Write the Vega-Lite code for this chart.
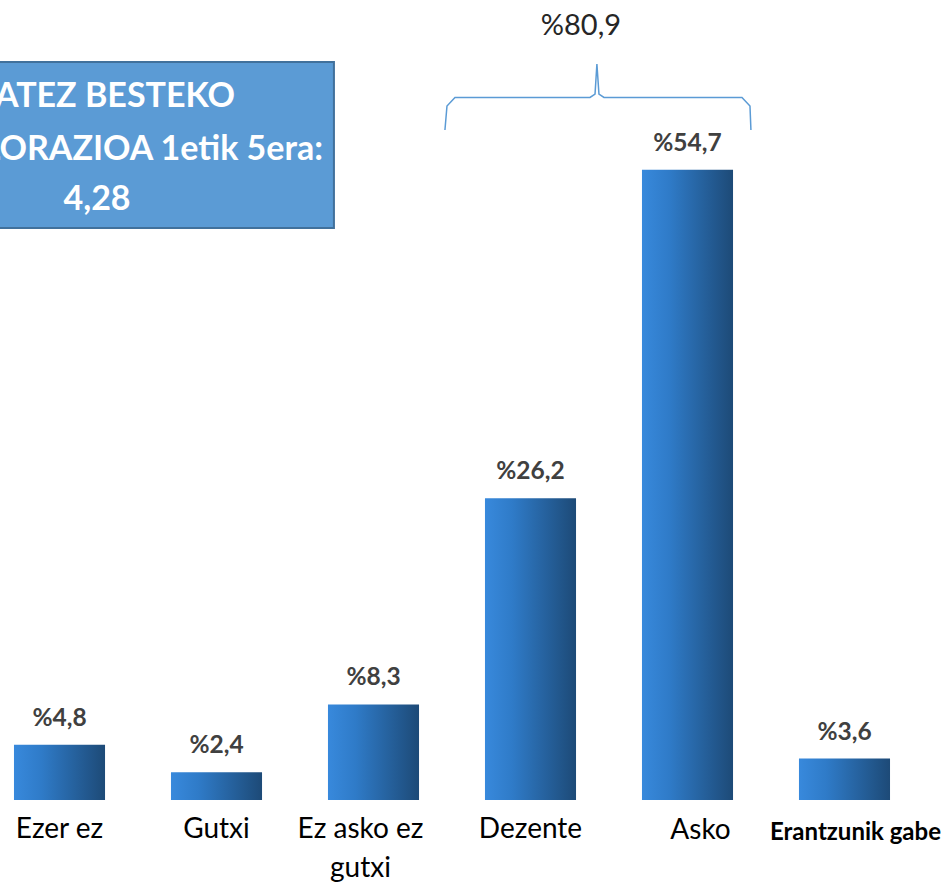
{
  "$schema": "https://vega.github.io/schema/vega-lite/v6.json",
  "width": 904,
  "height": 800,
  "autosize": {"type": "none"},
  "padding": {"left": 0, "top": 0, "right": 47, "bottom": 85},
  "background": "white",
  "config": {"view": {"stroke": null}, "font": "Lato", "axis": {"disable": true}},
  "datasets": {
    "bars": [
      {"cat": "Ezer ez", "value": 4.8, "lbl": "%4,8", "name": "Ezer ez", "grp": "a"},
      {"cat": "Gutxi", "value": 2.4, "lbl": "%2,4", "name": "Gutxi", "grp": "a"},
      {"cat": "Ez asko ez gutxi", "value": 8.3, "lbl": "%8,3", "name": "Ez asko ez|gutxi", "grp": "l"},
      {"cat": "Dezente", "value": 26.2, "lbl": "%26,2", "name": "Dezente", "grp": "a"},
      {"cat": "Asko", "value": 54.7, "lbl": "%54,7", "name": "Asko", "grp": "r"},
      {"cat": "Erantzunik gabe", "value": 3.6, "lbl": "%3,6", "name": "Erantzunik gabe", "grp": "b"}
    ],
    "brace": [
      {"i": 0, "xi": 2.452, "y": 58.16},
      {"i": 1, "xi": 2.465, "y": 60.24},
      {"i": 2, "xi": 2.516, "y": 60.98},
      {"i": 3, "xi": 3.376, "y": 60.98},
      {"i": 4, "xi": 3.408, "y": 61.28},
      {"i": 5, "xi": 3.42, "y": 63.89},
      {"i": 6, "xi": 3.433, "y": 61.28},
      {"i": 7, "xi": 3.465, "y": 60.98},
      {"i": 8, "xi": 4.344, "y": 60.98},
      {"i": 9, "xi": 4.395, "y": 60.24},
      {"i": 10, "xi": 4.401, "y": 58.16}
    ],
    "box": [{"x1": -0.7, "x2": 1.745, "y1": 64.06, "y2": 49.65}],
    "boxtext": [
      {"xi": 1.115, "y": 60.18, "t": "BATEZ BESTEKO"},
      {"xi": 1.675, "y": 55.56, "t": "BALORAZIOA 1etik 5era:"}
    ],
    "boxnum": [{"xi": 0.236, "y": 51.2, "t": "4,28"}],
    "total": [{"xi": 3.318, "y": 66.4, "t": "%80,9"}]
  },
  "resolve": {"scale": {"x": "independent"}},
  "layer": [
    {
      "data": {"name": "bars"},
      "transform": [{"calculate": "0", "as": "zero"}],
      "layer": [
        {
          "mark": {
            "type": "bar",
            "color": {
              "gradient": "linear", "x1": 0, "x2": 1, "y1": 0, "y2": 0,
              "stops": [
                {"offset": 0, "color": "#3889dc"},
                {"offset": 0.3, "color": "#2f7bc8"},
                {"offset": 1, "color": "#1d4a77"}
              ]
            }
          },
          "encoding": {
            "x": {"field": "cat", "type": "nominal", "sort": null, "axis": null,
                  "scale": {"paddingInner": 0.42, "paddingOuter": 0.089}},
            "y": {"field": "value", "type": "quantitative", "axis": null,
                  "scale": {"domain": [0, 69.44], "nice": false}}
          }
        },
        {
          "mark": {"type": "text", "fontWeight": "bold", "fontSize": 24.5, "color": "#404040", "baseline": "alphabetic", "dy": -19},
          "encoding": {
            "x": {"field": "cat", "type": "nominal", "sort": null, "axis": null},
            "y": {"field": "value", "type": "quantitative"},
            "text": {"field": "lbl"}
          }
        },
        {
          "transform": [{"filter": "datum.grp == 'a'"}],
          "mark": {"type": "text", "fontSize": 28, "color": "#000000", "baseline": "alphabetic", "dy": 38},
          "encoding": {
            "x": {"field": "cat", "type": "nominal", "sort": null, "axis": null},
            "y": {"field": "zero", "type": "quantitative"},
            "text": {"field": "name"}
          }
        },
        {
          "transform": [{"filter": "datum.grp == 'l'"}],
          "mark": {"type": "text", "fontSize": 28, "color": "#000000", "baseline": "alphabetic", "dy": 38, "dx": -13, "lineBreak": "|", "lineHeight": 39},
          "encoding": {
            "x": {"field": "cat", "type": "nominal", "sort": null, "axis": null},
            "y": {"field": "zero", "type": "quantitative"},
            "text": {"field": "name"}
          }
        },
        {
          "transform": [{"filter": "datum.grp == 'r'"}],
          "mark": {"type": "text", "fontSize": 28, "color": "#000000", "baseline": "alphabetic", "dy": 39, "dx": 13},
          "encoding": {
            "x": {"field": "cat", "type": "nominal", "sort": null, "axis": null},
            "y": {"field": "zero", "type": "quantitative"},
            "text": {"field": "name"}
          }
        },
        {
          "transform": [{"filter": "datum.grp == 'b'"}],
          "mark": {"type": "text", "fontSize": 24, "fontWeight": "bold", "color": "#000000", "baseline": "alphabetic", "dy": 40, "dx": 11},
          "encoding": {
            "x": {"field": "cat", "type": "nominal", "sort": null, "axis": null},
            "y": {"field": "zero", "type": "quantitative"},
            "text": {"field": "name"}
          }
        }
      ]
    },
    {
      "layer": [
        {
          "data": {"name": "box"},
          "mark": {"type": "rect", "fill": "#5b9bd5", "stroke": "#41719c", "strokeWidth": 2},
          "encoding": {
            "x": {"field": "x1", "type": "quantitative", "axis": null,
                  "scale": {"domain": [-0.382, 5.376], "nice": false, "zero": false}},
            "x2": {"field": "x2"},
            "y": {"field": "y1", "type": "quantitative"},
            "y2": {"field": "y2"}
          }
        },
        {
          "data": {"name": "boxtext"},
          "mark": {"type": "text", "fontWeight": "bold", "fontSize": 34, "color": "white", "baseline": "alphabetic", "align": "right"},
          "encoding": {
            "x": {"field": "xi", "type": "quantitative"},
            "y": {"field": "y", "type": "quantitative"},
            "text": {"field": "t"}
          }
        },
        {
          "data": {"name": "boxnum"},
          "mark": {"type": "text", "fontWeight": "bold", "fontSize": 34, "color": "white", "baseline": "alphabetic", "align": "center"},
          "encoding": {
            "x": {"field": "xi", "type": "quantitative"},
            "y": {"field": "y", "type": "quantitative"},
            "text": {"field": "t"}
          }
        },
        {
          "data": {"name": "brace"},
          "mark": {"type": "line", "stroke": "#5b9bd5", "strokeWidth": 1.5, "interpolate": "linear"},
          "encoding": {
            "x": {"field": "xi", "type": "quantitative"},
            "y": {"field": "y", "type": "quantitative"},
            "order": {"field": "i"}
          }
        },
        {
          "data": {"name": "total"},
          "mark": {"type": "text", "fontSize": 29, "color": "#262626", "baseline": "alphabetic", "align": "center"},
          "encoding": {
            "x": {"field": "xi", "type": "quantitative"},
            "y": {"field": "y", "type": "quantitative"},
            "text": {"field": "t"}
          }
        }
      ]
    }
  ]
}
